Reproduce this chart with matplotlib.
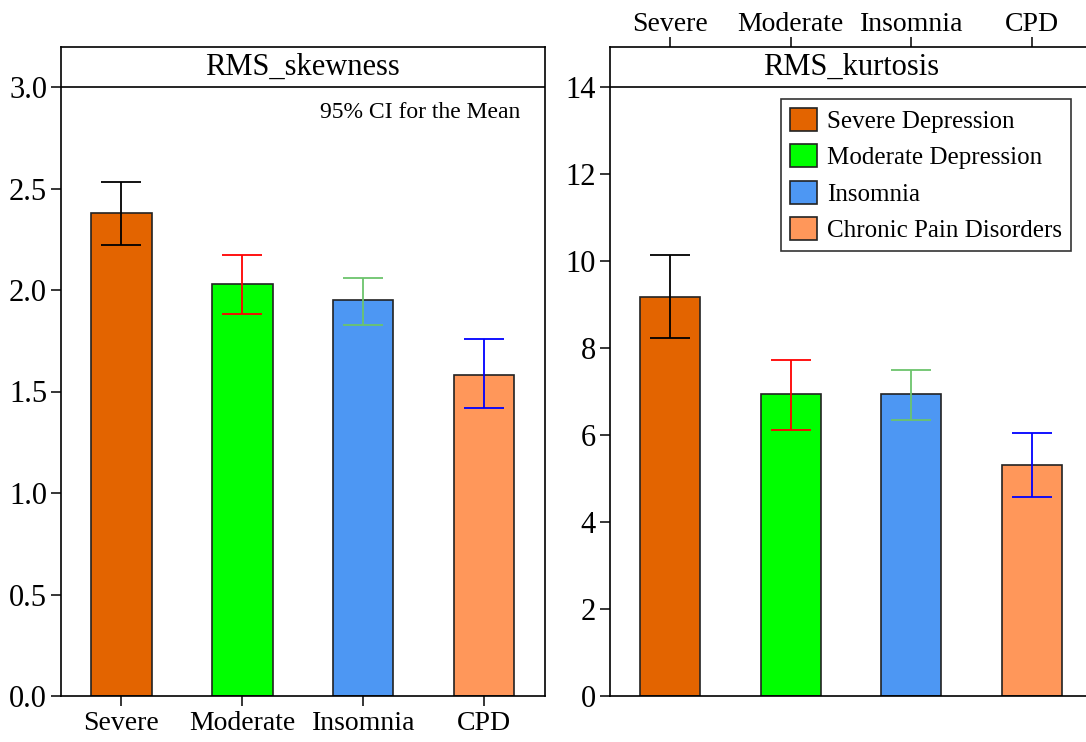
import numpy as np
import matplotlib
matplotlib.use("Agg")
import matplotlib.pyplot as plt
from matplotlib.patches import Patch

plt.rcParams['font.family'] = ['Liberation Serif', 'DejaVu Serif']

# data
categories = ["Severe", "Moderate", "Insomnia", "CPD"]
legend_labels = ["Severe Depression", "Moderate Depression", "Insomnia", "Chronic Pain Disorders"]

skew_mean = [2.38, 2.03, 1.95, 1.58]
skew_lo = [2.22, 1.88, 1.83, 1.42]
skew_hi = [2.53, 2.17, 2.06, 1.76]

kurt_mean = [9.17, 6.94, 6.94, 5.31]
kurt_lo = [8.23, 6.12, 6.34, 4.57]
kurt_hi = [10.14, 7.72, 7.49, 6.05]

bar_colors = ["#E36400", "#00FF00", "#4D97F3", "#FF975A"]
err_colors = ["#000000", "#FF0000", "#6CC46C", "#0000FF"]


def draw_panel(ax, means, lo, hi, ymax, yticks, ticklabels, title, ticks_top):
    '''bars + coloured CI whiskers, with a title strip above ymax'''
    x = np.arange(len(means))
    ax.bar(x, means, width=0.5, color=bar_colors, edgecolor="#222222", linewidth=1.2, zorder=2)
    for i in range(len(means)):
        ax.errorbar(x[i], means[i],
                    yerr=[[means[i] - lo[i]], [hi[i] - means[i]]],
                    fmt="none", ecolor=err_colors[i], elinewidth=1.3,
                    capsize=14.5, capthick=1.3, zorder=3)

    top = ymax * 649 / 609
    ax.set_xlim(-0.5, len(means) - 0.5)
    ax.set_ylim(0, top)
    ax.axhline(ymax, color="black", linewidth=1.2, zorder=4)
    ax.text((len(means) - 1) / 2, (ymax + top) / 2, title, ha="center", va="center", fontsize=22)

    ax.set_yticks(yticks)
    ax.set_yticklabels(ticklabels)
    ax.set_xticks(x)
    ax.set_xticklabels(categories)
    ax.tick_params(axis="both", direction="out", length=7, width=1.1, labelsize=20)
    ax.tick_params(axis="y", labelsize=22, pad=3)
    if ticks_top:
        ax.xaxis.tick_top()
        ax.tick_params(axis="x", pad=0)
    for s in ax.spines.values():
        s.set_linewidth(1.2)


fig = plt.figure(figsize=(10.86, 7.42), dpi=100)

ax1 = fig.add_axes([61 / 1086, 46 / 742, 483.6 / 1086, 649 / 742])
draw_panel(ax1, skew_mean, skew_lo, skew_hi, 3.0,
           [0, 0.5, 1.0, 1.5, 2.0, 2.5, 3.0],
           ["0.0", "0.5", "1.0", "1.5", "2.0", "2.5", "3.0"],
           "RMS_skewness", False)
ax1.text(520 / 1086, 1 - 112 / 742, "95% CI for the Mean", transform=fig.transFigure,
         ha="right", va="center", fontsize=17)

ax2 = fig.add_axes([610 / 1086, 46 / 742, 482 / 1086, 649 / 742])
draw_panel(ax2, kurt_mean, kurt_lo, kurt_hi, 14,
           [0, 2, 4, 6, 8, 10, 12, 14],
           ["0", "2", "4", "6", "8", "10", "12", "14"],
           "RMS_kurtosis", True)

handles = [Patch(facecolor=c, edgecolor="#222222", linewidth=1.2) for c in bar_colors]
leg = ax2.legend(handles, legend_labels, loc="upper left",
                 bbox_to_anchor=(781 / 1086, 1 - 99 / 742), bbox_transform=fig.transFigure,
                 fontsize=18, frameon=True, fancybox=False, edgecolor="black",
                 handlelength=1.1, handleheight=1.05, handletextpad=0.4,
                 labelspacing=0.45, borderpad=0.35, borderaxespad=0)
leg.get_frame().set_linewidth(1.2)

fig.savefig("out.png", dpi=100)
